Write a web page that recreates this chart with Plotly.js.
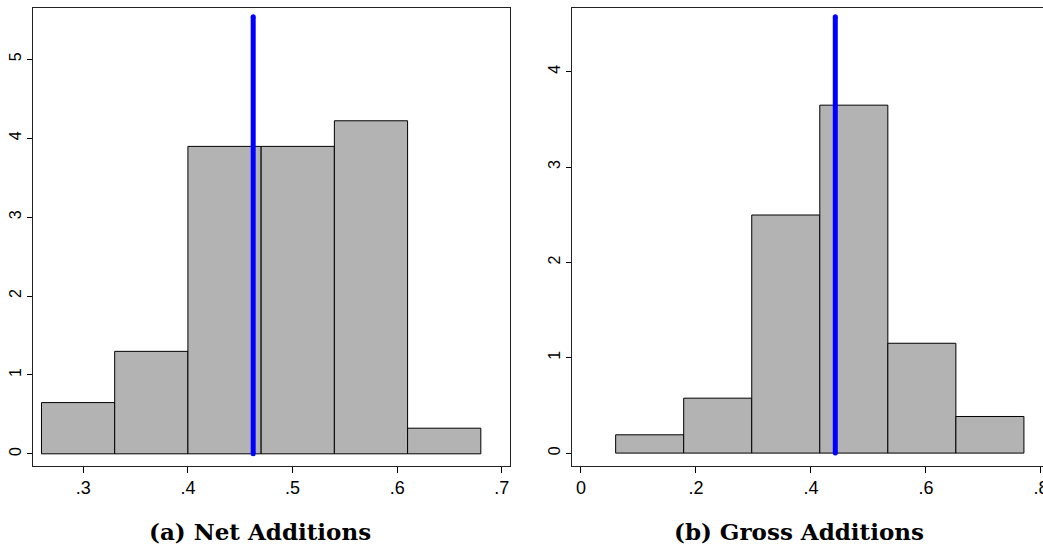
<!DOCTYPE html>
<html>
<head>
<meta charset="utf-8">
<script src="https://cdn.plot.ly/plotly-3.0.1.min.js"></script>
<style>
html,body{margin:0;padding:0;overflow:hidden;background:#fff;}
#chart{width:1060px;height:547px;}
</style>
</head>
<body>
<div id="chart"></div>
<script>
// Panel (a) Net Additions: histogram bins (density), N = 44
var netBinStart = 0.26;
var netBinWidth = 0.07;
var netDensity = [0.6494, 1.2987, 3.8961, 3.8961, 4.2208, 0.3247];
var netMean = 0.4624;
var netLineTop = 5.54;

// Panel (b) Gross Additions
var grossBinStart = 0.0603;
var grossBinWidth = 0.11835;
var grossDensity = [0.192, 0.576, 2.497, 3.649, 1.152, 0.384];
var grossMean = 0.4423;
var grossLineTop = 4.577;

var netTickVals = [0.3, 0.4, 0.5, 0.6, 0.7];
var netTickText = [".3", ".4", ".5", ".6", ".7"];
var netYTicks = [0, 1, 2, 3, 4, 5];
var grossTickVals = [0, 0.2, 0.4, 0.6, 0.8];
var grossTickText = ["0", ".2", ".4", ".6", ".8"];
var grossYTicks = [0, 1, 2, 3, 4];

var captions = ["(a) Net Additions", "(b) Gross Additions"];

function centers(start, w, n) {
  var c = [];
  for (var i = 0; i < n; i++) c.push(start + w * (i + 0.5));
  return c;
}

var W = 1060, H = 547;
var barColor = "#b3b3b3";

var traces = [
  {
    type: "bar",
    x: centers(netBinStart, netBinWidth, netDensity.length),
    y: netDensity,
    width: netBinWidth,
    marker: {color: barColor, line: {color: "#000", width: 1}},
    xaxis: "x", yaxis: "y",
    hoverinfo: "skip"
  },
  {
    type: "scatter", mode: "lines+markers",
    x: [netMean, netMean], y: [0, netLineTop],
    line: {color: "#0000ff", width: 5},
    marker: {color: "#0000ff", size: 5},
    xaxis: "x", yaxis: "y", cliponaxis: false
  },
  {
    type: "bar",
    x: centers(grossBinStart, grossBinWidth, grossDensity.length),
    y: grossDensity,
    width: grossBinWidth,
    marker: {color: barColor, line: {color: "#000", width: 1}},
    xaxis: "x2", yaxis: "y2",
    hoverinfo: "skip"
  },
  {
    type: "scatter", mode: "lines+markers",
    x: [grossMean, grossMean], y: [0, grossLineTop],
    line: {color: "#0000ff", width: 5},
    marker: {color: "#0000ff", size: 5},
    xaxis: "x2", yaxis: "y2", cliponaxis: false
  }
];

var xFont = {family: "Liberation Sans Narrow, Arial Narrow, sans-serif", size: 18, color: "#000"};
var yFont = {family: "Liberation Sans, Arial, sans-serif", size: 16, color: "#000"};

function xax(domain, range, vals, text, anchor) {
  return {
    domain: domain, range: range, anchor: anchor,
    tickmode: "array", tickvals: vals, ticktext: text,
    ticks: "outside", ticklen: 6, tickwidth: 1, tickcolor: "#000",
    showline: true, mirror: true, linecolor: "#222", linewidth: 1,
    showgrid: false, zeroline: false, tickfont: xFont, fixedrange: true
  };
}
function yax(domain, range, vals, anchor) {
  return {
    domain: domain, range: range, anchor: anchor,
    tickmode: "array", tickvals: vals,
    ticks: "outside", ticklen: 5, tickwidth: 1, tickcolor: "#000",
    tickangle: -90,
    showline: true, mirror: true, linecolor: "#222", linewidth: 1,
    showgrid: false, zeroline: false, tickfont: yFont, fixedrange: true
  };
}

var yDom = [1 - 465.5 / H, 1 - 8 / H];
var capFont = {family: "DejaVu Serif, serif", size: 23, color: "#000"};

var layout = {
  width: W, height: H,
  margin: {l: 0, r: 0, t: 0, b: 0},
  paper_bgcolor: "#fff", plot_bgcolor: "#fff",
  showlegend: false, bargap: 0,
  xaxis: xax([33 / W, 510 / W], [0.2519, 0.7079], netTickVals, netTickText, "y"),
  yaxis: yax(yDom, [-0.148, 5.65], netYTicks, "x"),
  xaxis2: xax([572.3 / W, 1049 / W], [-0.0151, 0.814], grossTickVals, grossTickText, "y2"),
  yaxis2: yax(yDom, [-0.13, 4.668], grossYTicks, "x2"),
  annotations: [
    {text: "<b>" + captions[0] + "</b>", xref: "paper", yref: "paper",
     x: 259.7 / W, y: 1 - 531 / H, xanchor: "center", yanchor: "middle",
     showarrow: false, font: capFont},
    {text: "<b>" + captions[1] + "</b>", xref: "paper", yref: "paper",
     x: 799 / W, y: 1 - 531 / H, xanchor: "center", yanchor: "middle",
     showarrow: false, font: capFont}
  ]
};

Plotly.newPlot("chart", traces, layout, {displayModeBar: false, staticPlot: true});
</script>
</body>
</html>
